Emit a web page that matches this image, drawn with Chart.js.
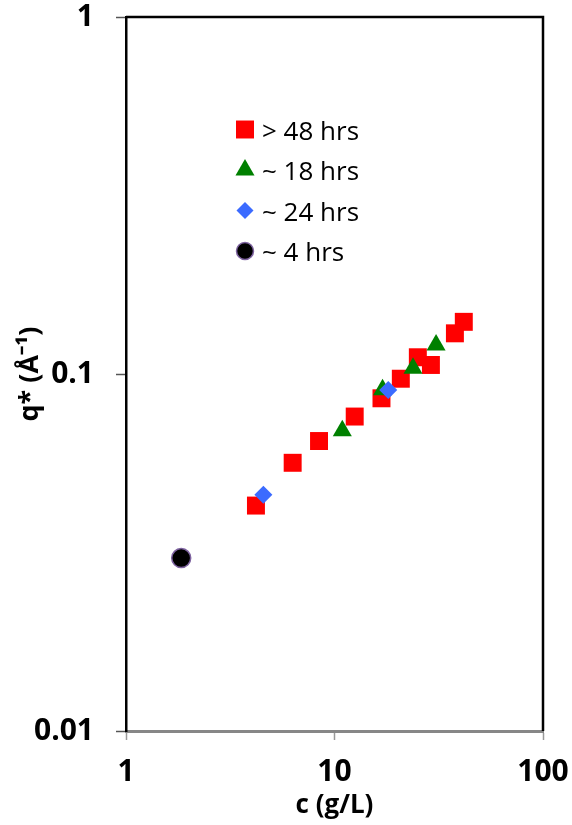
<!DOCTYPE html>
<html>
<head>
<meta charset="utf-8">
<script src="https://cdn.jsdelivr.net/npm/chart.js@4.4.0/dist/chart.umd.min.js"></script>
<style>
  html, body { margin: 0; padding: 0; background: #fff; }
  #wrap { width: 572px; height: 825px; }
</style>
</head>
<body>
<div id="wrap"><canvas id="chart"></canvas></div>
<script>
// values (log-log)
const seriesNames = ['> 48 hrs', '~ 18 hrs', '~ 24 hrs', '~ 4 hrs'];
const c48 = [4.20, 6.30, 8.43, 12.5, 16.8, 20.8, 25.1, 29.0, 37.8, 41.7];
const q48 = [0.0428, 0.0564, 0.0649, 0.0760, 0.0855, 0.0970, 0.1114, 0.1060, 0.130, 0.140];
const c18 = [10.9, 17.0, 23.8, 30.7];
const q18 = [0.0694, 0.0903, 0.1038, 0.1205];
const c24 = [4.56, 18.1];
const q24 = [0.0459, 0.0902];
const c4 = [1.84];
const q4 = [0.0305];
const xTicks = [1, 10, 100];
const yTicks = [0.01, 0.1, 1];

function toPoints(xs, ys) {
    return xs.map((x, i) => ({ x: x, y: ys[i] }));
}

const FONT = '"Open Sans", "Liberation Sans", sans-serif';

// keep tick labels from pushing the plot box around
function noLabelPadding(scale) {
    scale.paddingTop = 0;
    scale.paddingBottom = 0;
    scale.paddingLeft = 0;
    scale.paddingRight = 0;
}

// top and right border of the plot box
const framePlugin = {
    id: 'frame',
    afterDraw(chart) {
        const { ctx, chartArea } = chart;
        ctx.save();
        ctx.strokeStyle = '#000';
        ctx.lineWidth = 2.5;
        ctx.beginPath();
        ctx.moveTo(chartArea.left, chartArea.top);
        ctx.lineTo(chartArea.right, chartArea.top);
        ctx.lineTo(chartArea.right, chartArea.bottom);
        ctx.stroke();
        ctx.restore();
    }
};

// legend drawn inside the plot area
const insideLegend = {
    id: 'insideLegend',
    afterDatasetsDraw(chart) {
        const { ctx, chartArea } = chart;
        const x0 = chartArea.left + 119;
        const y0 = chartArea.top + 112.5;
        const step = 40.5;
        ctx.save();
        chart.data.datasets.forEach((ds, i) => {
            const y = y0 + i * step;
            ctx.fillStyle = ds.backgroundColor;
            ctx.strokeStyle = ds.borderColor;
            ctx.lineWidth = ds.borderWidth;
            Chart.helpers.drawPoint(ctx, {
                pointStyle: ds.pointStyle,
                radius: ds.legendRadius,
                borderWidth: ds.borderWidth,
                rotation: 0
            }, x0, y);
            ctx.fillStyle = '#000';
            ctx.font = '26px ' + FONT;
            ctx.textAlign = 'left';
            ctx.textBaseline = 'middle';
            ctx.fillText(ds.label, x0 + 17, y + 3);
        });
        ctx.restore();
    }
};

new Chart(document.getElementById('chart'), {
    type: 'scatter',
    data: {
        datasets: [
            {
                label: seriesNames[0],
                data: toPoints(c48, q48),
                pointStyle: 'rect',
                pointRadius: 12.7,
                legendRadius: 12.7,
                backgroundColor: '#ff0000',
                borderColor: '#ff0000',
                borderWidth: 0,
                order: 4
            },
            {
                label: seriesNames[1],
                data: toPoints(c18, q18),
                pointStyle: 'triangle',
                pointRadius: 11,
                legendRadius: 11,
                backgroundColor: '#008000',
                borderColor: '#008000',
                borderWidth: 0,
                order: 3
            },
            {
                label: seriesNames[2],
                data: toPoints(c24, q24),
                pointStyle: 'rectRot',
                pointRadius: 9,
                legendRadius: 8.5,
                backgroundColor: '#3b6bff',
                borderColor: '#3b6bff',
                borderWidth: 0,
                order: 2
            },
            {
                label: seriesNames[3],
                data: toPoints(c4, q4),
                pointStyle: 'circle',
                pointRadius: 9.5,
                legendRadius: 8.5,
                backgroundColor: '#000000',
                borderColor: '#7e63a0',
                borderWidth: 1.5,
                order: 1
            }
        ]
    },
    options: {
        responsive: true,
        maintainAspectRatio: false,
        animation: false,
        layout: { padding: { top: 17, right: 29, left: 0, bottom: 0 } },
        plugins: {
            legend: { display: false },
            tooltip: { enabled: false }
        },
        scales: {
            x: {
                type: 'logarithmic',
                min: 1,
                max: 100,
                afterBuildTicks: scale => { scale.ticks = xTicks.map(v => ({ value: v })); },
                afterFit: scale => { scale.height = 94; noLabelPadding(scale); },
                ticks: {
                    callback: v => String(v),
                    color: '#000',
                    font: { family: FONT, size: 30, weight: 'bold' },
                    padding: 14,
                    maxRotation: 0
                },
                grid: {
                    drawOnChartArea: false,
                    drawTicks: true,
                    tickLength: 9,
                    tickColor: '#999',
                    tickWidth: 1.5
                },
                border: { color: '#878787', width: 3 },
                title: {
                    display: true,
                    text: 'c (g/L)',
                    color: '#000',
                    font: { family: FONT, size: 26, weight: 'bold' },
                    padding: { top: 0, bottom: 4 }
                }
            },
            y: {
                type: 'logarithmic',
                min: 0.01,
                max: 1,
                afterBuildTicks: scale => { scale.ticks = yTicks.map(v => ({ value: v })); },
                afterFit: scale => { scale.width = 126; noLabelPadding(scale); },
                ticks: {
                    callback: v => String(v),
                    color: '#000',
                    font: { family: FONT, size: 30, weight: 'bold' },
                    padding: 22
                },
                grid: {
                    drawOnChartArea: false,
                    drawTicks: true,
                    tickLength: 10,
                    tickColor: '#555',
                    tickWidth: 1.5
                },
                border: { color: '#000', width: 2.5 },
                title: {
                    display: true,
                    text: 'q* (Å⁻¹)',
                    color: '#000',
                    font: { family: FONT, size: 27, weight: 'bold' },
                    padding: { top: 14, bottom: 0 }
                }
            }
        }
    },
    plugins: [framePlugin, insideLegend]
});
</script>
</body>
</html>
